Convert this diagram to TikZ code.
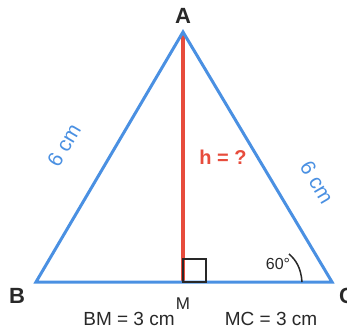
\documentclass[tikz,border=0pt]{standalone}
\usepackage{fontspec}
\setmainfont{Liberation Sans}
\definecolor{triblue}{RGB}{74,144,226}
\definecolor{hred}{RGB}{231,76,60}
\definecolor{ink}{RGB}{40,40,40}
\begin{document}
\begin{tikzpicture}[x=1pt,y=-1pt,
  vertex/.style={font=\fontsize{22}{24}\selectfont\bfseries, text=ink, inner sep=0pt},
  sidelbl/.style={font=\fontsize{21}{24}\selectfont, text=triblue, inner sep=0pt},
  plain/.style={font=\fontsize{19}{22}\selectfont, text=ink, inner sep=0pt}]
\useasboundingbox (0,0) rectangle (347,334);
\coordinate (A) at (183,32);
\coordinate (B) at (36,282);
\coordinate (C) at (332,282);
\coordinate (M) at (183,282);
% height
\draw[hred, line width=4pt] (A) -- (M);
% triangle
\draw[triblue, line width=3pt, line join=miter] (B) -- (A) -- (C) -- cycle;
% right angle
\draw[ink, line width=1.5pt] (M) rectangle ++(23,-23);
% angle mark
\draw[ink, line width=1.5pt] (302,282) .. controls (301,268) and (296,260) .. (289,254);
% labels
\node[vertex] (lA) at (183,16) {A};
\node[vertex] (lB) at (17,296) {B};
\node[vertex] (lC) at (347,296) {C};
\node[plain, font=\fontsize{17}{20}\selectfont] (lM) at (183,304) {M};
\node[plain] (bm) at (129,319) {BM = 3 cm};
\node[plain] (mc) at (271,319) {MC = 3 cm};
\node[sidelbl, rotate=59.5] (sl) at (64,145) {6 cm};
\node[sidelbl, rotate=-59.5] (sr) at (317,182) {6 cm};
\node[font=\fontsize{20}{22}\selectfont\bfseries, text=hred, inner sep=0pt] (h) at (223,157) {h = ?};
\node[plain, font=\fontsize{16}{18}\selectfont] (ang) at (278,264) {60°};
\end{tikzpicture}
\end{document}
